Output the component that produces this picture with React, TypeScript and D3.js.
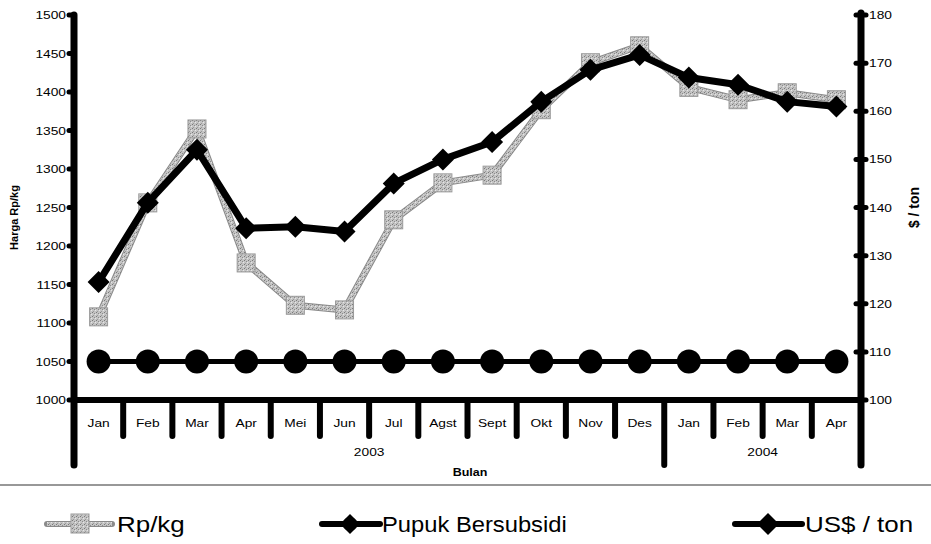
import React from 'react';
import * as d3 from 'd3';

// data
const months = ['Jan', 'Feb', 'Mar', 'Apr', 'Mei', 'Jun', 'Jul', 'Agst', 'Sept', 'Okt', 'Nov', 'Des', 'Jan', 'Feb', 'Mar', 'Apr'];
const years = [
  { label: '2003', from: 0, to: 12 },
  { label: '2004', from: 12, to: 16 },
];
const rpKg = [1108, 1256, 1352, 1178, 1123, 1117, 1234, 1282, 1292, 1377, 1438, 1460, 1406, 1390, 1399, 1390];
const pupuk = [1050, 1050, 1050, 1050, 1050, 1050, 1050, 1050, 1050, 1050, 1050, 1050, 1050, 1050, 1050, 1050];
const usdTon = [124.5, 141, 152, 135.7, 136, 135, 145, 150, 153.6, 162, 168.6, 171.7, 167, 165.5, 162, 161];
const leftTicks = [1000, 1050, 1100, 1150, 1200, 1250, 1300, 1350, 1400, 1450, 1500];
const rightTicks = [100, 110, 120, 130, 140, 150, 160, 170, 180];

const W = 931;
const H = 544;
const plot = { left: 74, right: 861, top: 15, bottom: 400 };
const font = 'Arial, "Liberation Sans", Helvetica, sans-serif';

// the scanned chart is stretched sideways, so text gets a horizontal scale
const T = ({ x, y, sx = 1.25, anchor = 'start', size = 11, bold = false, children }:
  { x: number; y: number; sx?: number; anchor?: string; size?: number; bold?: boolean; children: React.ReactNode }) => (
  <text transform={`translate(${x},${y}) scale(${sx},1)`} textAnchor={anchor} fontSize={size}
    fontWeight={bold ? 'bold' : 'normal'}>{children}</text>
);

export default function App() {
  const x = d3.scaleBand<number>()
    .domain(d3.range(months.length))
    .range([plot.left, plot.right])
    .padding(0);
  const cx = (i: number) => (x(i) as number) + x.bandwidth() / 2;
  const yL = d3.scaleLinear().domain([1000, 1500]).range([plot.bottom, plot.top]);
  const yR = d3.scaleLinear().domain([100, 180]).range([plot.bottom, plot.top]);

  const lineL = d3.line<number>().x((d, i) => cx(i)).y(d => yL(d));
  const lineR = d3.line<number>().x((d, i) => cx(i)).y(d => yR(d));

  const diamond = (px: number, py: number, r: number) =>
    `M${px},${py - r}L${px + r},${py}L${px},${py + r}L${px - r},${py}Z`;

  // boundaries between month bands
  const bounds = d3.range(months.length + 1).map(i =>
    i < months.length ? (x(i) as number) : plot.right);
  const yearBounds = new Set([0, 12, 16]);
  const edge = (i: number) => (i < months.length ? (x(i) as number) : plot.right);

  return (
    <svg width={W} height={H} style={{ position: 'absolute', left: 0, top: 0, background: '#fff' }}
      fontFamily={font}>
      <defs>
        <pattern id="grain" width="4" height="4" patternUnits="userSpaceOnUse">
          <rect width="4" height="4" fill="#c4c4c4" />
          <rect x="0" y="0" width="1" height="1" fill="#7a7a7a" />
          <rect x="2" y="1" width="1" height="1" fill="#8c8c8c" />
          <rect x="1" y="3" width="1" height="1" fill="#9a9a9a" />
          <rect x="3" y="2" width="1" height="1" fill="#e6e6e6" />
        </pattern>
      </defs>

      {/* x axis line */}
      <line x1={plot.left} x2={plot.right} y1={plot.bottom} y2={plot.bottom} stroke="#000" strokeWidth={6} />
      {/* month dividers */}
      {bounds.map((bx, i) => (
        <line key={'b' + i} x1={bx} x2={bx} y1={plot.bottom}
          y2={yearBounds.has(i) ? 465 : 436} stroke="#000" strokeWidth={6} strokeLinecap="round" />
      ))}
      {months.map((m, i) => (
        <T key={'m' + i} x={cx(i)} y={427} anchor="middle">{m}</T>
      ))}
      {years.map(yr => (
        <T key={yr.label} x={(edge(yr.from) + edge(yr.to)) / 2} y={456} anchor="middle">{yr.label}</T>
      ))}
      <T x={470} y={476} anchor="middle" size={10} bold>Bulan</T>

      {/* left axis */}
      <line x1={plot.left} x2={plot.left} y1={plot.top} y2={465} stroke="#000" strokeWidth={7} strokeLinecap="round" />
      {leftTicks.map(t => (
        <g key={'l' + t}>
          <line x1={plot.left - 5} x2={plot.left} y1={yL(t)} y2={yL(t)} stroke="#000" strokeWidth={5} strokeLinecap="round" />
          <T x={plot.left - 8} y={yL(t) + 4} anchor="end">{t}</T>
        </g>
      ))}
      <text transform={`translate(18,${(plot.top + plot.bottom) / 2 + 10}) rotate(-90)`} textAnchor="middle"
        fontSize={11} fontWeight="bold">Harga Rp/kg</text>

      {/* right axis */}
      <line x1={plot.right} x2={plot.right} y1={plot.top - 2} y2={465} stroke="#000" strokeWidth={7} strokeLinecap="round" />
      {rightTicks.map(t => (
        <g key={'r' + t}>
          <line x1={plot.right - 5} x2={plot.right + 5} y1={yR(t)} y2={yR(t)} stroke="#000" strokeWidth={5} strokeLinecap="round" />
          <T x={plot.right + 8} y={yR(t) + 4}>{t}</T>
        </g>
      ))}
      <text transform={`translate(919,${(plot.top + plot.bottom) / 2}) rotate(-90)`} textAnchor="middle"
        fontSize={14} fontWeight="bold">$ / ton</text>

      {/* Pupuk Bersubsidi */}
      <path d={lineL(pupuk) as string} fill="none" stroke="#000" strokeWidth={5} />
      {pupuk.map((v, i) => (
        <circle key={'p' + i} cx={cx(i)} cy={yL(v)} r={12} fill="#000" />
      ))}

      {/* Rp/kg */}
      <path d={lineL(rpKg) as string} fill="none" stroke="#8a8a8a" strokeWidth={7} strokeLinejoin="round" />
      <path d={lineL(rpKg) as string} fill="none" stroke="url(#grain)" strokeWidth={5} strokeLinejoin="round" />
      {rpKg.map((v, i) => (
        <rect key={'s' + i} x={cx(i) - 9} y={yL(v) - 9} width={18} height={18}
          fill="url(#grain)" stroke="#9a9a9a" strokeWidth={1} />
      ))}

      {/* US$ / ton */}
      <path d={lineR(usdTon) as string} fill="none" stroke="#000" strokeWidth={7} strokeLinejoin="round" />
      {usdTon.map((v, i) => (
        <path key={'d' + i} d={diamond(cx(i), yR(v), 11)} fill="#000" />
      ))}

      {/* legend */}
      <line x1={0} x2={W} y1={485} y2={485} stroke="#333" strokeWidth={1.2} />
      <g>
        <line x1={47} x2={112} y1={524} y2={524} stroke="#8a8a8a" strokeWidth={6} strokeLinecap="round" />
        <line x1={47} x2={112} y1={524} y2={524} stroke="url(#grain)" strokeWidth={4} />
        <rect x={71} y={514} width={18} height={19} fill="url(#grain)" stroke="#9a9a9a" />
        <T x={117} y={532} size={22} sx={1.18}>Rp/kg</T>
      </g>
      <g>
        <line x1={322} x2={380} y1={524} y2={524} stroke="#000" strokeWidth={6} strokeLinecap="round" />
        <path d={diamond(350, 524, 10)} fill="#000" />
        <circle cx={350} cy={524} r={7} fill="#000" />
        <T x={382} y={532} size={22} sx={1.08}>Pupuk Bersubsidi</T>
      </g>
      <g>
        <line x1={735} x2={802} y1={524} y2={524} stroke="#000" strokeWidth={6} strokeLinecap="round" />
        <path d={diamond(768, 524, 11)} fill="#000" />
        <T x={805} y={532} size={22} sx={1.18}>US$ / ton</T>
      </g>
    </svg>
  );
}
